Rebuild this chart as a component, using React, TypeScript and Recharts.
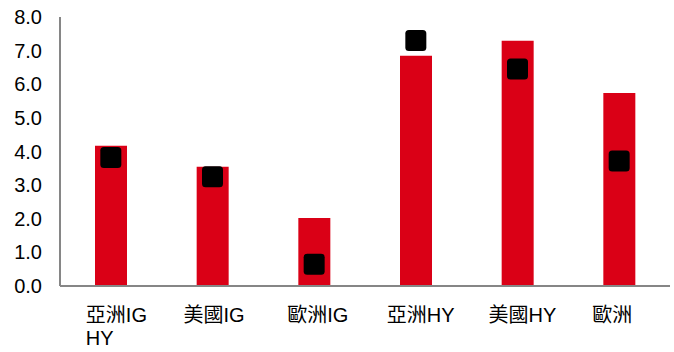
import { Bar, ComposedChart, Line, XAxis, YAxis } from "recharts";

const categories = ["亞洲IG", "美國IG", "歐洲IG", "亞洲HY", "美國HY", "歐洲"];
const barValues = [4.17, 3.55, 2.02, 6.85, 7.29, 5.74];
const markerValues = [3.82, 3.25, 0.65, 7.3, 6.45, 3.72];
const yTicks = [0, 1, 2, 3, 4, 5, 6, 7, 8];
// labels are left-aligned a little before each bar centre in the source
const labelShift = [-25, -29, -27, -29, -29, -27];

const data = categories.map((name, i) => ({ name, bar: barValues[i], marker: markerValues[i] }));

const FONT = '"Liberation Sans", Arial, "Noto Sans CJK TC", sans-serif';

function CategoryTick({ x, y, payload, index }: any) {
  const i = index ?? payload.index;
  const lx = x + labelShift[i];
  return (
    <text x={lx} y={y + 28} fontSize={20} fontFamily={FONT} fill="#000" textAnchor="start">
      <tspan x={lx}>{payload.value}</tspan>
      {i === 0 && (
        <tspan x={lx} dy={23}>
          HY
        </tspan>
      )}
    </text>
  );
}

function SquareDot({ cx, cy }: any) {
  if (cx == null || cy == null) return null;
  return <rect x={cx - 10.5} y={cy - 10.5} width={21} height={21} rx={3.5} fill="#000" />;
}

export default function App() {
  return (
    <div style={{ position: "absolute", left: 0, top: 0, width: 674, height: 352, background: "#fff" }}>
      <ComposedChart width={674} height={352} data={data} margin={{ top: 17, right: 4, bottom: 0, left: 0 }}>
        <XAxis
          dataKey="name"
          tick={<CategoryTick />}
          tickLine={false}
          axisLine={{ stroke: "#868686", strokeWidth: 2 }}
          height={66}
          interval={0}
        />
        <YAxis
          domain={[0, 8]}
          ticks={yTicks}
          tickFormatter={(v: number) => v.toFixed(1)}
          tick={{ fill: "#000", fontSize: 20, fontFamily: FONT }}
          tickLine={false}
          axisLine={{ stroke: "#868686", strokeWidth: 2 }}
          tickMargin={12}
          width={60}
        />
        <Bar dataKey="bar" fill="#DA0016" barSize={32} isAnimationActive={false} />
        <Line dataKey="marker" stroke="none" dot={<SquareDot />} activeDot={false} isAnimationActive={false} />
      </ComposedChart>
    </div>
  );
}
